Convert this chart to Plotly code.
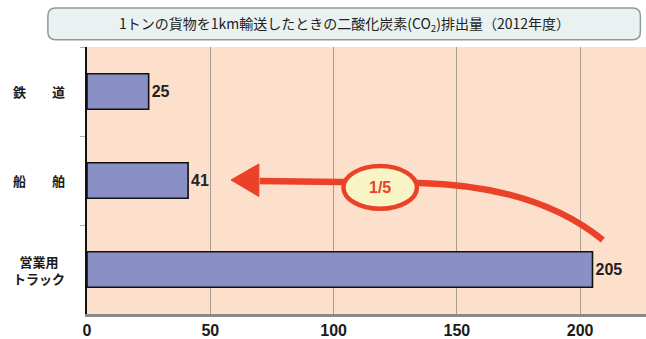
import plotly.graph_objects as go

# データ
kategorien = ["鉄道", "船舶", "営業用トラック"]
beschriftung = ["鉄　　道", "船　　舶", "営業用<br>トラック"]
co2_werte = [25, 41, 205]
x_ticks = [0, 50, 100, 150, 200]
titel = "1トンの貨物を1km輸送したときの二酸化炭素(CO<sub>2</sub>)排出量（2012年度）"
verhaeltnis = "1/5"

ROT = "#EA4128"
SCHRIFT = "Arial, 'Liberation Sans', 'Noto Sans CJK JP', sans-serif"
JP = "'Noto Sans CJK JP', sans-serif"

fig = go.Figure()
fig.add_trace(go.Bar(
    x=co2_werte, y=kategorien, orientation="h",
    marker=dict(color="#8A90C6", line=dict(color="#111111", width=1.6)),
    width=0.4,
    text=[str(v) for v in co2_werte], textposition="outside",
    textfont=dict(size=16, color="#222222", family=SCHRIFT, weight="bold"),
    cliponaxis=False, showlegend=False, hoverinfo="skip",
))

# y-Beschriftung als Annotationen (zentriert)
for kat, txt in zip(kategorien, beschriftung):
    fig.add_annotation(x=-0.085, xref="paper", y=kat, yref="y", text=txt,
                       showarrow=False, xanchor="center", yanchor="middle", align="center",
                       font=dict(size=13, color="#1A1A1A", family=JP, weight="bold"))

# Titelbox mit runden Ecken (paper-Koordinaten)
x0, x1, y0, y1 = -0.070, 0.990, 1.027, 1.146
rx, ry = 0.014, 0.030
pfad = (f"M {x0+rx},{y0} L {x1-rx},{y0} Q {x1},{y0} {x1},{y0+ry} "
        f"L {x1},{y1-ry} Q {x1},{y1} {x1-rx},{y1} L {x0+rx},{y1} "
        f"Q {x0},{y1} {x0},{y1-ry} L {x0},{y0+ry} Q {x0},{y0} {x0+rx},{y0} Z")
fig.add_shape(type="path", path=pfad, xref="paper", yref="paper",
              fillcolor="#E9F2F1", line=dict(color="#8C9C9C", width=1.5))
fig.add_annotation(x=0.46, xref="paper", y=1.087, yref="paper", text=titel,
                   showarrow=False, xanchor="center", yanchor="middle",
                   font=dict(size=14, color="#222222", family=JP))

# roter Pfeil (x in Daten, y in paper)
fig.add_shape(type="path", xref="x", yref="paper",
              path="M 209.2,0.277 C 191.8,0.408 167.5,0.483 135.0,0.491 L 70.0,0.498",
              line=dict(color=ROT, width=6.5))
fig.add_shape(type="path", xref="x", yref="paper",
              path="M 58.4,0.502 L 69.7,0.562 L 69.7,0.440 Z",
              fillcolor=ROT, line=dict(color=ROT, width=1))
fig.add_shape(type="circle", xref="x", yref="paper",
              x0=104.0, x1=133.8, y0=0.394, y1=0.554,
              fillcolor="#F8F4C6", line=dict(color=ROT, width=4.5))
fig.add_annotation(x=118.9, xref="x", y=0.474, yref="paper", text=verhaeltnis,
                   showarrow=False, font=dict(size=16, color=ROT, family=SCHRIFT, weight="bold"))

fig.update_xaxes(range=[0, 226.7], tickvals=x_ticks, showgrid=True, gridcolor="#A89C90",
                 gridwidth=1, zeroline=False, showline=True, linecolor="#8A8A8A", linewidth=3,
                 tickfont=dict(size=16, color="#1A1A1A", family=SCHRIFT, weight="bold"),
                 ticks="")
fig.update_yaxes(categoryorder="array", categoryarray=kategorien, range=[2.5, -0.5],
                 showticklabels=False, tickson="boundaries", ticks="outside", ticklen=5,
                 tickcolor="#B0B0B0", showline=True, linecolor="#111111", linewidth=2,
                 showgrid=False, zeroline=False)

fig.update_layout(
    width=646, height=339,
    margin=dict(l=87, r=0, t=47, b=25),
    paper_bgcolor="white", plot_bgcolor="#FCE0CC",
    bargap=0.6,
)

fig.write_html("out.html", config={"displayModeBar": False},
               post_script="document.body.style.margin='0';")
